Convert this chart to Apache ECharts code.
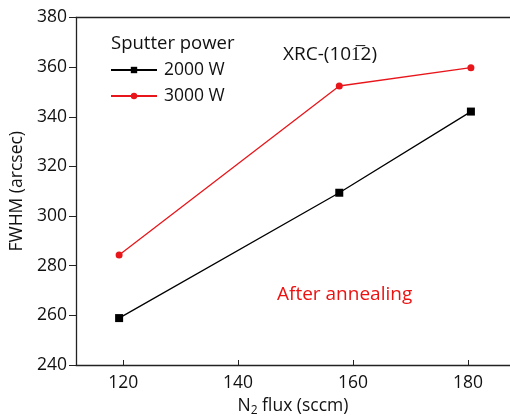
<!DOCTYPE html>
<html><head><meta charset="utf-8">
<script src="https://cdn.jsdelivr.net/npm/echarts@6/dist/echarts.min.js"></script>
<style>html,body{margin:0;padding:0;background:#fff}#c{width:510px;height:417px}</style>
</head><body><div id="c"></div>
<script>
const xTicks = [120, 140, 160, 180];
const yTicks = [240, 260, 280, 300, 320, 340, 360, 380];
const seriesNames = ['2000 W', '3000 W'];
const flux = [119.3, 157.6, 180.5];
const fwhm2000 = [258.9, 309.4, 342.1];
const fwhm3000 = [284.3, 352.4, 359.8];

const FONT = 'Open Sans';
const FS = 17.5;
const chart = echarts.init(document.getElementById('c'));
const axisCol = '#222';
chart.setOption({
  animation: false,
  grid: {left: 76, right: 0, top: 17.5, bottom: 52, containLabel: false, outerBoundsMode: 'none'},
  title: {text: 'Sputter power', left: 106, top: 29,
    textStyle: {fontFamily: FONT, fontSize: 18.5, fontWeight: 'normal', color: '#111'}},
  legend: {
    left: 105, top: 56, orient: 'vertical', itemWidth: 46, itemHeight: 8, itemGap: 8,
    data: seriesNames,
    textStyle: {fontFamily: FONT, fontSize: FS, color: '#111', padding: [0, 0, 0, 2]}
  },
  xAxis: [{
    type: 'value', min: 111.8, max: 187.3, position: 'bottom',
    axisLine: {show: true, onZero: false, lineStyle: {color: axisCol, width: 1.3}},
    axisTick: {show: true, inside: true, length: 5, customValues: xTicks, lineStyle: {color: axisCol}},
    axisLabel: {customValues: xTicks, margin: 9, fontFamily: FONT, fontSize: FS, color: '#111'},
    splitLine: {show: false},
    name: '{a|N}{s|2}{a| flux (sccm)}', nameLocation: 'middle', nameGap: 31,
    nameTextStyle: {rich: {
      a: {fontFamily: FONT, fontSize: FS, color: '#111'},
      s: {fontFamily: FONT, fontSize: 12, color: '#111', verticalAlign: 'bottom', padding: [9, 0, 0, 0]}
    }}
  }, {
    type: 'value', min: 111.8, max: 187.3, position: 'top',
    axisLine: {show: true, onZero: false, lineStyle: {color: axisCol, width: 1.3}},
    axisTick: {show: false}, axisLabel: {show: false}, splitLine: {show: false}
  }],
  yAxis: {
    type: 'value', min: 240, max: 380, interval: 20,
    axisLine: {show: true, lineStyle: {color: axisCol, width: 1.3}},
    axisTick: {show: true, inside: false, length: 7, lineStyle: {color: axisCol}},
    axisLabel: {margin: 9, fontFamily: FONT, fontSize: FS, color: '#111'},
    splitLine: {show: false},
    name: 'FWHM (arcsec)', nameLocation: 'middle', nameGap: 48,
    nameTextStyle: {fontFamily: FONT, fontSize: FS, color: '#111'}
  },
  graphic: [
    {type: 'text', left: 283, top: 45, style: {text: 'XRC-(101\u03052)', font: '19px "Open Sans"', fill: '#111'}},
    {type: 'text', left: 277, top: 285, style: {text: 'After annealing', font: '19px "Open Sans"', fill: '#ee1111'}}
  ],
  series: [
    {name: seriesNames[0], type: 'line', data: flux.map((x, i) => [x, fwhm2000[i]]),
     symbol: 'rect', symbolSize: 8, lineStyle: {color: '#000', width: 1.3}, itemStyle: {color: '#000'}},
    {name: seriesNames[1], type: 'line', data: flux.map((x, i) => [x, fwhm3000[i]]),
     symbol: 'circle', symbolSize: 7, lineStyle: {color: '#e8161b', width: 1.3}, itemStyle: {color: '#e8161b'}}
  ]
});
</script></body></html>
